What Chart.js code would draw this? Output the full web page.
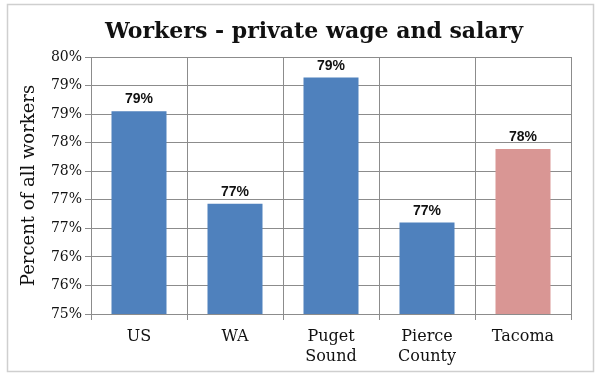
<!DOCTYPE html>
<html>
<head>
<meta charset="utf-8">
<title>Workers - private wage and salary</title>
<script src="https://cdn.jsdelivr.net/npm/chart.js@4.4.1/dist/chart.umd.min.js"></script>
<style>
  html, body { margin: 0; padding: 0; background: #fff; }
  #wrap { width: 600px; height: 375px; }
</style>
</head>
<body>
<div id="wrap"><canvas id="workersChart" width="600" height="375"></canvas></div>
<script>
// Share of all workers in private wage and salary jobs, by region
const regions = [['US'], ['WA'], ['Puget', 'Sound'], ['Pierce', 'County'], ['Tacoma']];
const privateShare = [78.55, 76.93, 79.14, 76.6, 77.89];
const barColors = ['#4f81bd', '#4f81bd', '#4f81bd', '#4f81bd', '#d99694'];

// Value axis runs 75% to 79.5% in half-point steps, labels rounded to whole percent
const yMin = 75;
const yMax = 79.5;
const yStep = 0.5;

const titleText = 'Workers - private wage and salary';
const yAxisTitle = 'Percent of all workers';

const serif = '"DejaVu Serif", "Liberation Serif", serif';
const gridColor = '#8c8c8c';

// Light grey frame round the whole chart
const framePlugin = {
    id: 'frame',
    beforeDraw(chart) {
        const ctx = chart.ctx;
        ctx.save();
        ctx.fillStyle = '#ffffff';
        ctx.fillRect(0, 0, chart.width, chart.height);
        ctx.strokeStyle = '#cfcfcf';
        ctx.lineWidth = 1.5;
        ctx.strokeRect(7.5, 4.5, 586, 367);
        ctx.restore();
    }
};

// Chart heading
const headingPlugin = {
    id: 'heading',
    afterDraw(chart) {
        const ctx = chart.ctx;
        ctx.save();
        ctx.font = 'bold 22px ' + serif;
        ctx.fillStyle = '#111';
        ctx.textAlign = 'center';
        ctx.textBaseline = 'alphabetic';
        ctx.fillText(titleText, 314, 38);
        ctx.restore();
    }
};

// Rounded percentage above each bar
const valueLabelPlugin = {
    id: 'valueLabels',
    afterDatasetsDraw(chart) {
        const ctx = chart.ctx;
        const meta = chart.getDatasetMeta(0);
        ctx.save();
        ctx.font = 'bold 14px "Liberation Sans", Arial, sans-serif';
        ctx.fillStyle = '#111';
        ctx.textAlign = 'center';
        ctx.textBaseline = 'alphabetic';
        meta.data.forEach((bar, i) => {
            const label = Math.round(privateShare[i]) + '%';
            ctx.fillText(label, bar.x, bar.y - 8);
        });
        ctx.restore();
    }
};

function initializeChart() {
    const ctx = document.getElementById('workersChart').getContext('2d');
    return new Chart(ctx, {
        type: 'bar',
        data: {
            labels: regions,
            datasets: [{
                data: privateShare,
                backgroundColor: barColors,
                borderWidth: 0,
                categoryPercentage: 1,
                barPercentage: 0.573
            }]
        },
        options: {
            responsive: false,
            animation: false,
            layout: {
                padding: { left: 10, right: 29, top: 57, bottom: 4 }
            },
            plugins: {
                legend: { display: false },
                tooltip: { enabled: false },
                title: { display: false }
            },
            scales: {
                x: {
                    grid: {
                        color: gridColor,
                        lineWidth: 1,
                        offset: true,
                        drawTicks: true,
                        tickLength: 6
                    },
                    border: { color: gridColor },
                    ticks: {
                        color: '#111',
                        font: { family: serif, size: 16, lineHeight: 1.3 },
                        padding: 6,
                        maxRotation: 0,
                        autoSkip: false
                    },
                    afterFit(scale) {
                        scale.height = 57;
                    }
                },
                y: {
                    min: yMin,
                    max: yMax,
                    grid: {
                        color: gridColor,
                        lineWidth: 1,
                        drawTicks: true,
                        tickLength: 6
                    },
                    border: { color: gridColor },
                    ticks: {
                        stepSize: yStep,
                        color: '#111',
                        font: { family: serif, size: 14 },
                        padding: 3,
                        callback: value => Math.round(value) + '%'
                    },
                    title: {
                        display: true,
                        text: yAxisTitle,
                        color: '#111',
                        font: { family: serif, size: 18 },
                        padding: { top: 9, bottom: 0 }
                    },
                    afterFit(scale) {
                        scale.width = 81;
                    }
                }
            }
        },
        plugins: [framePlugin, headingPlugin, valueLabelPlugin]
    });
}

document.addEventListener('DOMContentLoaded', function() {
    initializeChart();
});
</script>
</body>
</html>
